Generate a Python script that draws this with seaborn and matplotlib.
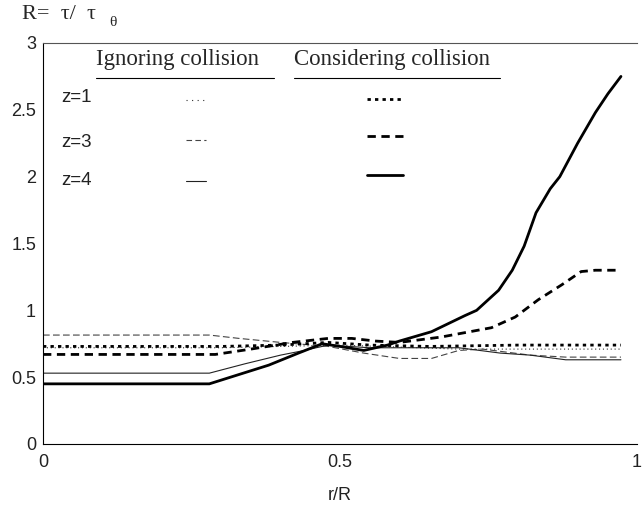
import pandas as pd
import numpy as np
import seaborn as sns
from matplotlib import pyplot as plt
from matplotlib.lines import Line2D

# ignoring collision (thin lines)
ign_z1_x = [0, 0.30, 0.50, 0.70, 0.973]
ign_z1_y = [0.72, 0.72, 0.74, 0.71, 0.71]
ign_z3_x = [0, 0.28, 0.33, 0.40, 0.48, 0.54, 0.60, 0.654, 0.70, 0.74, 0.82, 0.88, 0.973]
ign_z3_y = [0.815, 0.815, 0.79, 0.76, 0.73, 0.68, 0.64, 0.64, 0.70, 0.71, 0.665, 0.65, 0.65]
ign_z4_x = [0, 0.28, 0.34, 0.40, 0.44, 0.48, 0.55, 0.70, 0.77, 0.82, 0.88, 0.973]
ign_z4_y = [0.53, 0.53, 0.60, 0.665, 0.70, 0.74, 0.72, 0.72, 0.68, 0.665, 0.63, 0.63]

# considering collision (thick lines)
con_z1_x = [0, 0.30, 0.40, 0.48, 0.55, 0.65, 0.80, 0.973]
con_z1_y = [0.73, 0.73, 0.74, 0.76, 0.74, 0.73, 0.74, 0.74]
con_z3_x = [0, 0.29, 0.35, 0.42, 0.48, 0.52, 0.56, 0.60, 0.67, 0.755, 0.795, 0.834, 0.873, 0.906, 0.93, 0.973]
con_z3_y = [0.67, 0.67, 0.71, 0.76, 0.79, 0.79, 0.77, 0.76, 0.80, 0.87, 0.95, 1.08, 1.19, 1.29, 1.30, 1.30]
con_z4_x = [0, 0.28, 0.33, 0.38, 0.43, 0.47, 0.50, 0.54, 0.58, 0.60, 0.654, 0.71, 0.73,
            0.767, 0.79, 0.81, 0.83, 0.854, 0.87, 0.90, 0.93, 0.951, 0.973]
con_z4_y = [0.45, 0.45, 0.52, 0.59, 0.68, 0.75, 0.73, 0.70, 0.74, 0.77, 0.84, 0.96, 1.0,
            1.15, 1.30, 1.48, 1.73, 1.91, 2.0, 2.25, 2.48, 2.62, 2.75]

z_labels = ["z=1", "z=3", "z=4"]

sns.set_style("white")
plt.rcParams["font.family"] = ["Liberation Sans", "DejaVu Sans"]
serif = ["Liberation Serif", "DejaVu Serif"]

fig = plt.figure(figsize=(6.42, 5.13), dpi=100)
ax = fig.add_axes([43 / 642, 69 / 513, 594 / 642, 401 / 513])

thin = [(ign_z1_x, ign_z1_y, (0, (1, 2.5)), "#333333"),
        (ign_z3_x, ign_z3_y, (0, (6, 3)), "#444444"),
        (ign_z4_x, ign_z4_y, "-", "#222222")]
thick = [(con_z1_x, con_z1_y, (0, (1.2, 1.5))),
         (con_z3_x, con_z3_y, (0, (3, 2))),
         (con_z4_x, con_z4_y, "-")]

for xs, ys, ls, col in thin:
    sns.lineplot(x=xs, y=ys, ax=ax, color=col, linewidth=0.8, linestyle=ls)
for xs, ys, ls in thick:
    sns.lineplot(x=xs, y=ys, ax=ax, color="black", linewidth=2.0, linestyle=ls)

ax.set_xlim(0, 1.0)
ax.set_ylim(0, 3)
ax.set_xticks([0, 0.5, 1])
ax.set_xticklabels(["0", "0.5", "1"])
ax.set_yticks([0, 0.5, 1, 1.5, 2, 2.5, 3])
ax.set_yticklabels(["0", "0.5", "1", "1.5", "2", "2.5", "3"])
ax.tick_params(axis="both", length=0, labelsize=13, colors="#222222")
ax.tick_params(axis="x", pad=7)
ax.tick_params(axis="y", pad=5)
ax.spines["right"].set_visible(False)
ax.spines["top"].set_color("#555555")
ax.spines["left"].set_color("black")
ax.spines["bottom"].set_color("black")
ax.set_xlabel("r/R", fontsize=13, labelpad=12, color="#222222")

fig.text(22 / 642, 1 - 15 / 513, "R=  τ/  τ", fontsize=16, family=serif, ha="left", va="center")
fig.text(109 / 642, 1 - 22 / 513, "θ", fontsize=11, family=serif, ha="left", va="center")

# table-like legend
ax.text(0.09, 0.958, "Ignoring collision", transform=ax.transAxes, fontsize=16.5,
        family=serif, ha="left", va="center")
ax.add_line(Line2D([0.09, 0.389], [0.913, 0.913], transform=ax.transAxes, color="black", lw=0.8))
ax.text(0.422, 0.958, "Considering collision", transform=ax.transAxes, fontsize=16.5,
        family=serif, ha="left", va="center")
ax.add_line(Line2D([0.422, 0.769], [0.913, 0.913], transform=ax.transAxes, color="black", lw=0.8))

rows_y = [0.863, 0.752, 0.656]
thin_y = [0.858, 0.758, 0.656]
thick_y = [0.860, 0.767, 0.671]
thin_style = [(0, (1, 4)), (0, (5, 3)), "-"]
for i, lab in enumerate(z_labels):
    ax.text(0.03, rows_y[i], lab, transform=ax.transAxes, fontsize=13.5, ha="left", va="center",
            color="#222222")
    ax.add_line(Line2D([0.241, 0.275], [thin_y[i], thin_y[i]], transform=ax.transAxes,
                       color=thin[i][3], lw=0.8, linestyle=thin_style[i]))
    ax.add_line(Line2D([0.545, 0.606], [thick_y[i], thick_y[i]], transform=ax.transAxes,
                       color="black", lw=2.0, linestyle=thick[i][2]))

fig.savefig("out.png", dpi=100)
